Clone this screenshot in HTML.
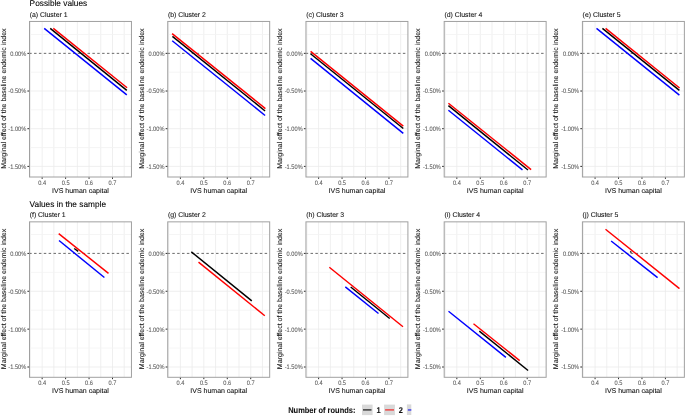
<!DOCTYPE html>
<html><head><meta charset="utf-8"><title>Marginal effect chart</title>
<style>
html,body{margin:0;padding:0;background:#fff;width:685px;height:416px;overflow:hidden}
svg text{font-family:"Liberation Sans", sans-serif;text-rendering:geometricPrecision;stroke-width:0.08px}
</style></head><body>
<svg width="685" height="416" viewBox="0 0 685 416" style="display:block;will-change:transform">
<rect width="685" height="416" fill="#fff"/>
<text x="29.6" y="6.40" font-size="8.3" fill="#000" stroke="#000">Possible values</text>
<path d="M30.42 21.45V177.00M42.15 21.45V177.00M53.87 21.45V177.00M65.60 21.45V177.00M77.33 21.45V177.00M89.05 21.45V177.00M100.78 21.45V177.00M112.50 21.45V177.00M124.22 21.45V177.00M29.50 91.03H131.45M29.50 128.70H131.45M29.50 166.38H131.45" stroke="#ebebeb" stroke-width="0.8" fill="none"/>
<path d="M29.50 34.51H131.45M29.50 72.19H131.45M29.50 109.86H131.45M29.50 147.54H131.45" stroke="#f3f3f3" stroke-width="0.8" fill="none"/>
<path d="M29.20 53.35H130.95" stroke="#5a5a5a" stroke-width="0.9" stroke-dasharray="2.5 2.36" fill="none"/>
<line x1="44.21" y1="28.34" x2="126.79" y2="94.86" stroke="#0000ff" stroke-width="1.45" stroke-linecap="butt"/>
<line x1="50.21" y1="28.34" x2="126.79" y2="90.36" stroke="#000000" stroke-width="1.45" stroke-linecap="butt"/>
<line x1="53.31" y1="28.34" x2="127.09" y2="87.76" stroke="#ff0000" stroke-width="1.45" stroke-linecap="butt"/>
<rect x="29.50" y="21.45" width="101.95" height="155.55" fill="none" stroke="#a0a0a0" stroke-width="1"/>
<text x="29.70" y="16.90" font-size="6.9" fill="#111" stroke="#111">(a) Cluster 1</text>
<path d="M27.40 53.35H29.10" stroke="#2a2a2a" stroke-width="1"/>
<text transform="translate(26.20 55.80) scale(0.885,1)" font-size="6.4" fill="#5c5c5c" stroke="#5c5c5c" text-anchor="end">0.00%</text>
<path d="M27.40 91.03H29.10" stroke="#2a2a2a" stroke-width="1"/>
<text transform="translate(26.20 93.48) scale(0.885,1)" font-size="6.4" fill="#5c5c5c" stroke="#5c5c5c" text-anchor="end">-0.50%</text>
<path d="M27.40 128.70H29.10" stroke="#2a2a2a" stroke-width="1"/>
<text transform="translate(26.20 131.15) scale(0.885,1)" font-size="6.4" fill="#5c5c5c" stroke="#5c5c5c" text-anchor="end">-1.00%</text>
<path d="M27.40 166.38H29.10" stroke="#2a2a2a" stroke-width="1"/>
<text transform="translate(26.20 168.82) scale(0.885,1)" font-size="6.4" fill="#5c5c5c" stroke="#5c5c5c" text-anchor="end">-1.50%</text>
<path d="M42.15 177.50V178.90" stroke="#2a2a2a" stroke-width="1"/>
<text transform="translate(42.15 184.60) scale(0.885,1)" font-size="6.4" fill="#5c5c5c" stroke="#5c5c5c" text-anchor="middle">0.4</text>
<path d="M65.60 177.50V178.90" stroke="#2a2a2a" stroke-width="1"/>
<text transform="translate(65.60 184.60) scale(0.885,1)" font-size="6.4" fill="#5c5c5c" stroke="#5c5c5c" text-anchor="middle">0.5</text>
<path d="M89.05 177.50V178.90" stroke="#2a2a2a" stroke-width="1"/>
<text transform="translate(89.05 184.60) scale(0.885,1)" font-size="6.4" fill="#5c5c5c" stroke="#5c5c5c" text-anchor="middle">0.6</text>
<path d="M112.50 177.50V178.90" stroke="#2a2a2a" stroke-width="1"/>
<text transform="translate(112.50 184.60) scale(0.885,1)" font-size="6.4" fill="#5c5c5c" stroke="#5c5c5c" text-anchor="middle">0.7</text>
<text x="80.47" y="192.70" font-size="7" fill="#111" stroke="#111" text-anchor="middle">IVS human capital</text>
<text transform="translate(6.00 98.63) rotate(-90)" x="0" y="0" font-size="7" fill="#111" stroke="#111" text-anchor="middle">Marginal effect of the baseline endemic index</text>
<path d="M168.65 21.45V177.00M180.38 21.45V177.00M192.10 21.45V177.00M203.83 21.45V177.00M215.56 21.45V177.00M227.28 21.45V177.00M239.00 21.45V177.00M250.73 21.45V177.00M262.45 21.45V177.00M167.73 91.03H269.68M167.73 128.70H269.68M167.73 166.38H269.68" stroke="#ebebeb" stroke-width="0.8" fill="none"/>
<path d="M167.73 34.51H269.68M167.73 72.19H269.68M167.73 109.86H269.68M167.73 147.54H269.68" stroke="#f3f3f3" stroke-width="0.8" fill="none"/>
<path d="M167.43 53.35H269.18" stroke="#5a5a5a" stroke-width="0.9" stroke-dasharray="2.5 2.36" fill="none"/>
<line x1="172.21" y1="40.74" x2="265.09" y2="115.46" stroke="#0000ff" stroke-width="1.45" stroke-linecap="butt"/>
<line x1="172.41" y1="36.34" x2="265.09" y2="110.96" stroke="#000000" stroke-width="1.45" stroke-linecap="butt"/>
<line x1="172.11" y1="33.64" x2="265.39" y2="108.56" stroke="#ff0000" stroke-width="1.45" stroke-linecap="butt"/>
<rect x="167.73" y="21.45" width="101.95" height="155.55" fill="none" stroke="#a0a0a0" stroke-width="1"/>
<text x="167.93" y="16.90" font-size="6.9" fill="#111" stroke="#111">(b) Cluster 2</text>
<path d="M165.63 53.35H167.33" stroke="#2a2a2a" stroke-width="1"/>
<text transform="translate(164.43 55.80) scale(0.885,1)" font-size="6.4" fill="#5c5c5c" stroke="#5c5c5c" text-anchor="end">0.00%</text>
<path d="M165.63 91.03H167.33" stroke="#2a2a2a" stroke-width="1"/>
<text transform="translate(164.43 93.48) scale(0.885,1)" font-size="6.4" fill="#5c5c5c" stroke="#5c5c5c" text-anchor="end">-0.50%</text>
<path d="M165.63 128.70H167.33" stroke="#2a2a2a" stroke-width="1"/>
<text transform="translate(164.43 131.15) scale(0.885,1)" font-size="6.4" fill="#5c5c5c" stroke="#5c5c5c" text-anchor="end">-1.00%</text>
<path d="M165.63 166.38H167.33" stroke="#2a2a2a" stroke-width="1"/>
<text transform="translate(164.43 168.82) scale(0.885,1)" font-size="6.4" fill="#5c5c5c" stroke="#5c5c5c" text-anchor="end">-1.50%</text>
<path d="M180.38 177.50V178.90" stroke="#2a2a2a" stroke-width="1"/>
<text transform="translate(180.38 184.60) scale(0.885,1)" font-size="6.4" fill="#5c5c5c" stroke="#5c5c5c" text-anchor="middle">0.4</text>
<path d="M203.83 177.50V178.90" stroke="#2a2a2a" stroke-width="1"/>
<text transform="translate(203.83 184.60) scale(0.885,1)" font-size="6.4" fill="#5c5c5c" stroke="#5c5c5c" text-anchor="middle">0.5</text>
<path d="M227.28 177.50V178.90" stroke="#2a2a2a" stroke-width="1"/>
<text transform="translate(227.28 184.60) scale(0.885,1)" font-size="6.4" fill="#5c5c5c" stroke="#5c5c5c" text-anchor="middle">0.6</text>
<path d="M250.73 177.50V178.90" stroke="#2a2a2a" stroke-width="1"/>
<text transform="translate(250.73 184.60) scale(0.885,1)" font-size="6.4" fill="#5c5c5c" stroke="#5c5c5c" text-anchor="middle">0.7</text>
<text x="218.70" y="192.70" font-size="7" fill="#111" stroke="#111" text-anchor="middle">IVS human capital</text>
<text transform="translate(144.00 98.63) rotate(-90)" x="0" y="0" font-size="7" fill="#111" stroke="#111" text-anchor="middle">Marginal effect of the baseline endemic index</text>
<path d="M306.88 21.45V177.00M318.61 21.45V177.00M330.33 21.45V177.00M342.06 21.45V177.00M353.78 21.45V177.00M365.51 21.45V177.00M377.23 21.45V177.00M388.96 21.45V177.00M400.68 21.45V177.00M305.96 91.03H407.91M305.96 128.70H407.91M305.96 166.38H407.91" stroke="#ebebeb" stroke-width="0.8" fill="none"/>
<path d="M305.96 34.51H407.91M305.96 72.19H407.91M305.96 109.86H407.91M305.96 147.54H407.91" stroke="#f3f3f3" stroke-width="0.8" fill="none"/>
<path d="M305.66 53.35H407.41" stroke="#5a5a5a" stroke-width="0.9" stroke-dasharray="2.5 2.36" fill="none"/>
<line x1="310.61" y1="58.34" x2="403.29" y2="133.36" stroke="#0000ff" stroke-width="1.45" stroke-linecap="butt"/>
<line x1="310.51" y1="53.74" x2="403.29" y2="128.56" stroke="#000000" stroke-width="1.45" stroke-linecap="butt"/>
<line x1="310.61" y1="51.34" x2="403.29" y2="126.16" stroke="#ff0000" stroke-width="1.45" stroke-linecap="butt"/>
<rect x="305.96" y="21.45" width="101.95" height="155.55" fill="none" stroke="#a0a0a0" stroke-width="1"/>
<text x="306.16" y="16.90" font-size="6.9" fill="#111" stroke="#111">(c) Cluster 3</text>
<path d="M303.86 53.35H305.56" stroke="#2a2a2a" stroke-width="1"/>
<text transform="translate(302.66 55.80) scale(0.885,1)" font-size="6.4" fill="#5c5c5c" stroke="#5c5c5c" text-anchor="end">0.00%</text>
<path d="M303.86 91.03H305.56" stroke="#2a2a2a" stroke-width="1"/>
<text transform="translate(302.66 93.48) scale(0.885,1)" font-size="6.4" fill="#5c5c5c" stroke="#5c5c5c" text-anchor="end">-0.50%</text>
<path d="M303.86 128.70H305.56" stroke="#2a2a2a" stroke-width="1"/>
<text transform="translate(302.66 131.15) scale(0.885,1)" font-size="6.4" fill="#5c5c5c" stroke="#5c5c5c" text-anchor="end">-1.00%</text>
<path d="M303.86 166.38H305.56" stroke="#2a2a2a" stroke-width="1"/>
<text transform="translate(302.66 168.82) scale(0.885,1)" font-size="6.4" fill="#5c5c5c" stroke="#5c5c5c" text-anchor="end">-1.50%</text>
<path d="M318.61 177.50V178.90" stroke="#2a2a2a" stroke-width="1"/>
<text transform="translate(318.61 184.60) scale(0.885,1)" font-size="6.4" fill="#5c5c5c" stroke="#5c5c5c" text-anchor="middle">0.4</text>
<path d="M342.06 177.50V178.90" stroke="#2a2a2a" stroke-width="1"/>
<text transform="translate(342.06 184.60) scale(0.885,1)" font-size="6.4" fill="#5c5c5c" stroke="#5c5c5c" text-anchor="middle">0.5</text>
<path d="M365.51 177.50V178.90" stroke="#2a2a2a" stroke-width="1"/>
<text transform="translate(365.51 184.60) scale(0.885,1)" font-size="6.4" fill="#5c5c5c" stroke="#5c5c5c" text-anchor="middle">0.6</text>
<path d="M388.96 177.50V178.90" stroke="#2a2a2a" stroke-width="1"/>
<text transform="translate(388.96 184.60) scale(0.885,1)" font-size="6.4" fill="#5c5c5c" stroke="#5c5c5c" text-anchor="middle">0.7</text>
<text x="356.94" y="192.70" font-size="7" fill="#111" stroke="#111" text-anchor="middle">IVS human capital</text>
<text transform="translate(282.00 98.63) rotate(-90)" x="0" y="0" font-size="7" fill="#111" stroke="#111" text-anchor="middle">Marginal effect of the baseline endemic index</text>
<path d="M445.11 21.45V177.00M456.84 21.45V177.00M468.56 21.45V177.00M480.29 21.45V177.00M492.01 21.45V177.00M503.74 21.45V177.00M515.46 21.45V177.00M527.19 21.45V177.00M538.91 21.45V177.00M444.19 91.03H546.14M444.19 128.70H546.14M444.19 166.38H546.14" stroke="#ebebeb" stroke-width="0.8" fill="none"/>
<path d="M444.19 34.51H546.14M444.19 72.19H546.14M444.19 109.86H546.14M444.19 147.54H546.14" stroke="#f3f3f3" stroke-width="0.8" fill="none"/>
<path d="M443.89 53.35H545.64" stroke="#5a5a5a" stroke-width="0.9" stroke-dasharray="2.5 2.36" fill="none"/>
<line x1="448.41" y1="110.24" x2="522.49" y2="169.86" stroke="#0000ff" stroke-width="1.45" stroke-linecap="butt"/>
<line x1="448.41" y1="105.64" x2="527.99" y2="170.06" stroke="#000000" stroke-width="1.45" stroke-linecap="butt"/>
<line x1="448.40" y1="103.24" x2="531.10" y2="169.56" stroke="#ff0000" stroke-width="1.45" stroke-linecap="butt"/>
<rect x="444.19" y="21.45" width="101.95" height="155.55" fill="none" stroke="#a0a0a0" stroke-width="1"/>
<text x="444.39" y="16.90" font-size="6.9" fill="#111" stroke="#111">(d) Cluster 4</text>
<path d="M442.09 53.35H443.79" stroke="#2a2a2a" stroke-width="1"/>
<text transform="translate(440.89 55.80) scale(0.885,1)" font-size="6.4" fill="#5c5c5c" stroke="#5c5c5c" text-anchor="end">0.00%</text>
<path d="M442.09 91.03H443.79" stroke="#2a2a2a" stroke-width="1"/>
<text transform="translate(440.89 93.48) scale(0.885,1)" font-size="6.4" fill="#5c5c5c" stroke="#5c5c5c" text-anchor="end">-0.50%</text>
<path d="M442.09 128.70H443.79" stroke="#2a2a2a" stroke-width="1"/>
<text transform="translate(440.89 131.15) scale(0.885,1)" font-size="6.4" fill="#5c5c5c" stroke="#5c5c5c" text-anchor="end">-1.00%</text>
<path d="M442.09 166.38H443.79" stroke="#2a2a2a" stroke-width="1"/>
<text transform="translate(440.89 168.82) scale(0.885,1)" font-size="6.4" fill="#5c5c5c" stroke="#5c5c5c" text-anchor="end">-1.50%</text>
<path d="M456.84 177.50V178.90" stroke="#2a2a2a" stroke-width="1"/>
<text transform="translate(456.84 184.60) scale(0.885,1)" font-size="6.4" fill="#5c5c5c" stroke="#5c5c5c" text-anchor="middle">0.4</text>
<path d="M480.29 177.50V178.90" stroke="#2a2a2a" stroke-width="1"/>
<text transform="translate(480.29 184.60) scale(0.885,1)" font-size="6.4" fill="#5c5c5c" stroke="#5c5c5c" text-anchor="middle">0.5</text>
<path d="M503.74 177.50V178.90" stroke="#2a2a2a" stroke-width="1"/>
<text transform="translate(503.74 184.60) scale(0.885,1)" font-size="6.4" fill="#5c5c5c" stroke="#5c5c5c" text-anchor="middle">0.6</text>
<path d="M527.19 177.50V178.90" stroke="#2a2a2a" stroke-width="1"/>
<text transform="translate(527.19 184.60) scale(0.885,1)" font-size="6.4" fill="#5c5c5c" stroke="#5c5c5c" text-anchor="middle">0.7</text>
<text x="495.16" y="192.70" font-size="7" fill="#111" stroke="#111" text-anchor="middle">IVS human capital</text>
<text transform="translate(420.00 98.63) rotate(-90)" x="0" y="0" font-size="7" fill="#111" stroke="#111" text-anchor="middle">Marginal effect of the baseline endemic index</text>
<path d="M583.34 21.45V177.00M595.07 21.45V177.00M606.79 21.45V177.00M618.52 21.45V177.00M630.24 21.45V177.00M641.97 21.45V177.00M653.69 21.45V177.00M665.42 21.45V177.00M677.14 21.45V177.00M582.42 91.03H684.37M582.42 128.70H684.37M582.42 166.38H684.37" stroke="#ebebeb" stroke-width="0.8" fill="none"/>
<path d="M582.42 34.51H684.37M582.42 72.19H684.37M582.42 109.86H684.37M582.42 147.54H684.37" stroke="#f3f3f3" stroke-width="0.8" fill="none"/>
<path d="M582.12 53.35H683.87" stroke="#5a5a5a" stroke-width="0.9" stroke-dasharray="2.5 2.36" fill="none"/>
<line x1="596.51" y1="28.34" x2="679.39" y2="95.16" stroke="#0000ff" stroke-width="1.45" stroke-linecap="butt"/>
<line x1="602.41" y1="28.34" x2="679.39" y2="90.36" stroke="#000000" stroke-width="1.45" stroke-linecap="butt"/>
<line x1="605.61" y1="28.34" x2="679.59" y2="88.06" stroke="#ff0000" stroke-width="1.45" stroke-linecap="butt"/>
<rect x="582.42" y="21.45" width="101.95" height="155.55" fill="none" stroke="#a0a0a0" stroke-width="1"/>
<text x="582.62" y="16.90" font-size="6.9" fill="#111" stroke="#111">(e) Cluster 5</text>
<path d="M580.32 53.35H582.02" stroke="#2a2a2a" stroke-width="1"/>
<text transform="translate(579.12 55.80) scale(0.885,1)" font-size="6.4" fill="#5c5c5c" stroke="#5c5c5c" text-anchor="end">0.00%</text>
<path d="M580.32 91.03H582.02" stroke="#2a2a2a" stroke-width="1"/>
<text transform="translate(579.12 93.48) scale(0.885,1)" font-size="6.4" fill="#5c5c5c" stroke="#5c5c5c" text-anchor="end">-0.50%</text>
<path d="M580.32 128.70H582.02" stroke="#2a2a2a" stroke-width="1"/>
<text transform="translate(579.12 131.15) scale(0.885,1)" font-size="6.4" fill="#5c5c5c" stroke="#5c5c5c" text-anchor="end">-1.00%</text>
<path d="M580.32 166.38H582.02" stroke="#2a2a2a" stroke-width="1"/>
<text transform="translate(579.12 168.82) scale(0.885,1)" font-size="6.4" fill="#5c5c5c" stroke="#5c5c5c" text-anchor="end">-1.50%</text>
<path d="M595.07 177.50V178.90" stroke="#2a2a2a" stroke-width="1"/>
<text transform="translate(595.07 184.60) scale(0.885,1)" font-size="6.4" fill="#5c5c5c" stroke="#5c5c5c" text-anchor="middle">0.4</text>
<path d="M618.52 177.50V178.90" stroke="#2a2a2a" stroke-width="1"/>
<text transform="translate(618.52 184.60) scale(0.885,1)" font-size="6.4" fill="#5c5c5c" stroke="#5c5c5c" text-anchor="middle">0.5</text>
<path d="M641.97 177.50V178.90" stroke="#2a2a2a" stroke-width="1"/>
<text transform="translate(641.97 184.60) scale(0.885,1)" font-size="6.4" fill="#5c5c5c" stroke="#5c5c5c" text-anchor="middle">0.6</text>
<path d="M665.42 177.50V178.90" stroke="#2a2a2a" stroke-width="1"/>
<text transform="translate(665.42 184.60) scale(0.885,1)" font-size="6.4" fill="#5c5c5c" stroke="#5c5c5c" text-anchor="middle">0.7</text>
<text x="633.39" y="192.70" font-size="7" fill="#111" stroke="#111" text-anchor="middle">IVS human capital</text>
<text transform="translate(558.00 98.63) rotate(-90)" x="0" y="0" font-size="7" fill="#111" stroke="#111" text-anchor="middle">Marginal effect of the baseline endemic index</text>
<text x="29.6" y="206.95" font-size="8.3" fill="#000" stroke="#000">Values in the sample</text>
<path d="M30.42 221.85V377.30M42.15 221.85V377.30M53.87 221.85V377.30M65.60 221.85V377.30M77.33 221.85V377.30M89.05 221.85V377.30M100.78 221.85V377.30M112.50 221.85V377.30M124.22 221.85V377.30M29.50 291.26H131.45M29.50 329.13H131.45M29.50 367.00H131.45" stroke="#ebebeb" stroke-width="0.8" fill="none"/>
<path d="M29.50 234.47H131.45M29.50 272.33H131.45M29.50 310.20H131.45M29.50 348.06H131.45" stroke="#f3f3f3" stroke-width="0.8" fill="none"/>
<path d="M29.20 253.40H130.95" stroke="#5a5a5a" stroke-width="0.9" stroke-dasharray="2.5 2.36" fill="none"/>
<line x1="59.01" y1="240.54" x2="104.39" y2="277.46" stroke="#0000ff" stroke-width="1.45" stroke-linecap="butt"/>
<line x1="74.20" y1="248.50" x2="78.20" y2="251.45" stroke="#000000" stroke-width="1.45" stroke-linecap="butt"/>
<line x1="58.70" y1="233.64" x2="108.50" y2="273.36" stroke="#ff0000" stroke-width="1.45" stroke-linecap="butt"/>
<rect x="29.50" y="221.85" width="101.95" height="155.45" fill="none" stroke="#a0a0a0" stroke-width="1"/>
<text x="29.70" y="216.90" font-size="6.9" fill="#111" stroke="#111">(f) Cluster 1</text>
<path d="M27.40 253.40H29.10" stroke="#2a2a2a" stroke-width="1"/>
<text transform="translate(26.20 255.85) scale(0.885,1)" font-size="6.4" fill="#5c5c5c" stroke="#5c5c5c" text-anchor="end">0.00%</text>
<path d="M27.40 291.26H29.10" stroke="#2a2a2a" stroke-width="1"/>
<text transform="translate(26.20 293.71) scale(0.885,1)" font-size="6.4" fill="#5c5c5c" stroke="#5c5c5c" text-anchor="end">-0.50%</text>
<path d="M27.40 329.13H29.10" stroke="#2a2a2a" stroke-width="1"/>
<text transform="translate(26.20 331.58) scale(0.885,1)" font-size="6.4" fill="#5c5c5c" stroke="#5c5c5c" text-anchor="end">-1.00%</text>
<path d="M27.40 367.00H29.10" stroke="#2a2a2a" stroke-width="1"/>
<text transform="translate(26.20 369.44) scale(0.885,1)" font-size="6.4" fill="#5c5c5c" stroke="#5c5c5c" text-anchor="end">-1.50%</text>
<path d="M42.15 377.80V379.20" stroke="#2a2a2a" stroke-width="1"/>
<text transform="translate(42.15 384.90) scale(0.885,1)" font-size="6.4" fill="#5c5c5c" stroke="#5c5c5c" text-anchor="middle">0.4</text>
<path d="M65.60 377.80V379.20" stroke="#2a2a2a" stroke-width="1"/>
<text transform="translate(65.60 384.90) scale(0.885,1)" font-size="6.4" fill="#5c5c5c" stroke="#5c5c5c" text-anchor="middle">0.5</text>
<path d="M89.05 377.80V379.20" stroke="#2a2a2a" stroke-width="1"/>
<text transform="translate(89.05 384.90) scale(0.885,1)" font-size="6.4" fill="#5c5c5c" stroke="#5c5c5c" text-anchor="middle">0.6</text>
<path d="M112.50 377.80V379.20" stroke="#2a2a2a" stroke-width="1"/>
<text transform="translate(112.50 384.90) scale(0.885,1)" font-size="6.4" fill="#5c5c5c" stroke="#5c5c5c" text-anchor="middle">0.7</text>
<text x="80.47" y="393.00" font-size="7" fill="#111" stroke="#111" text-anchor="middle">IVS human capital</text>
<text transform="translate(6.00 298.97) rotate(-90)" x="0" y="0" font-size="7" fill="#111" stroke="#111" text-anchor="middle">Marginal effect of the baseline endemic index</text>
<path d="M168.65 221.85V377.30M180.38 221.85V377.30M192.10 221.85V377.30M203.83 221.85V377.30M215.56 221.85V377.30M227.28 221.85V377.30M239.00 221.85V377.30M250.73 221.85V377.30M262.45 221.85V377.30M167.73 291.26H269.68M167.73 329.13H269.68M167.73 367.00H269.68" stroke="#ebebeb" stroke-width="0.8" fill="none"/>
<path d="M167.73 234.47H269.68M167.73 272.33H269.68M167.73 310.20H269.68M167.73 348.06H269.68" stroke="#f3f3f3" stroke-width="0.8" fill="none"/>
<path d="M167.43 253.40H269.18" stroke="#5a5a5a" stroke-width="0.9" stroke-dasharray="2.5 2.36" fill="none"/>
<line x1="191.31" y1="251.84" x2="251.79" y2="300.86" stroke="#000000" stroke-width="1.45" stroke-linecap="butt"/>
<line x1="198.51" y1="262.14" x2="264.79" y2="315.76" stroke="#ff0000" stroke-width="1.45" stroke-linecap="butt"/>
<rect x="167.73" y="221.85" width="101.95" height="155.45" fill="none" stroke="#a0a0a0" stroke-width="1"/>
<text x="167.93" y="216.90" font-size="6.9" fill="#111" stroke="#111">(g) Cluster 2</text>
<path d="M165.63 253.40H167.33" stroke="#2a2a2a" stroke-width="1"/>
<text transform="translate(164.43 255.85) scale(0.885,1)" font-size="6.4" fill="#5c5c5c" stroke="#5c5c5c" text-anchor="end">0.00%</text>
<path d="M165.63 291.26H167.33" stroke="#2a2a2a" stroke-width="1"/>
<text transform="translate(164.43 293.71) scale(0.885,1)" font-size="6.4" fill="#5c5c5c" stroke="#5c5c5c" text-anchor="end">-0.50%</text>
<path d="M165.63 329.13H167.33" stroke="#2a2a2a" stroke-width="1"/>
<text transform="translate(164.43 331.58) scale(0.885,1)" font-size="6.4" fill="#5c5c5c" stroke="#5c5c5c" text-anchor="end">-1.00%</text>
<path d="M165.63 367.00H167.33" stroke="#2a2a2a" stroke-width="1"/>
<text transform="translate(164.43 369.44) scale(0.885,1)" font-size="6.4" fill="#5c5c5c" stroke="#5c5c5c" text-anchor="end">-1.50%</text>
<path d="M180.38 377.80V379.20" stroke="#2a2a2a" stroke-width="1"/>
<text transform="translate(180.38 384.90) scale(0.885,1)" font-size="6.4" fill="#5c5c5c" stroke="#5c5c5c" text-anchor="middle">0.4</text>
<path d="M203.83 377.80V379.20" stroke="#2a2a2a" stroke-width="1"/>
<text transform="translate(203.83 384.90) scale(0.885,1)" font-size="6.4" fill="#5c5c5c" stroke="#5c5c5c" text-anchor="middle">0.5</text>
<path d="M227.28 377.80V379.20" stroke="#2a2a2a" stroke-width="1"/>
<text transform="translate(227.28 384.90) scale(0.885,1)" font-size="6.4" fill="#5c5c5c" stroke="#5c5c5c" text-anchor="middle">0.6</text>
<path d="M250.73 377.80V379.20" stroke="#2a2a2a" stroke-width="1"/>
<text transform="translate(250.73 384.90) scale(0.885,1)" font-size="6.4" fill="#5c5c5c" stroke="#5c5c5c" text-anchor="middle">0.7</text>
<text x="218.70" y="393.00" font-size="7" fill="#111" stroke="#111" text-anchor="middle">IVS human capital</text>
<text transform="translate(144.00 298.97) rotate(-90)" x="0" y="0" font-size="7" fill="#111" stroke="#111" text-anchor="middle">Marginal effect of the baseline endemic index</text>
<path d="M306.88 221.85V377.30M318.61 221.85V377.30M330.33 221.85V377.30M342.06 221.85V377.30M353.78 221.85V377.30M365.51 221.85V377.30M377.23 221.85V377.30M388.96 221.85V377.30M400.68 221.85V377.30M305.96 291.26H407.91M305.96 329.13H407.91M305.96 367.00H407.91" stroke="#ebebeb" stroke-width="0.8" fill="none"/>
<path d="M305.96 234.47H407.91M305.96 272.33H407.91M305.96 310.20H407.91M305.96 348.06H407.91" stroke="#f3f3f3" stroke-width="0.8" fill="none"/>
<path d="M305.66 253.40H407.41" stroke="#5a5a5a" stroke-width="0.9" stroke-dasharray="2.5 2.36" fill="none"/>
<line x1="345.30" y1="286.94" x2="378.50" y2="313.51" stroke="#0000ff" stroke-width="1.45" stroke-linecap="butt"/>
<line x1="350.71" y1="287.04" x2="389.69" y2="318.56" stroke="#000000" stroke-width="1.45" stroke-linecap="butt"/>
<line x1="329.31" y1="267.24" x2="402.99" y2="326.76" stroke="#ff0000" stroke-width="1.45" stroke-linecap="butt"/>
<rect x="305.96" y="221.85" width="101.95" height="155.45" fill="none" stroke="#a0a0a0" stroke-width="1"/>
<text x="306.16" y="216.90" font-size="6.9" fill="#111" stroke="#111">(h) Cluster 3</text>
<path d="M303.86 253.40H305.56" stroke="#2a2a2a" stroke-width="1"/>
<text transform="translate(302.66 255.85) scale(0.885,1)" font-size="6.4" fill="#5c5c5c" stroke="#5c5c5c" text-anchor="end">0.00%</text>
<path d="M303.86 291.26H305.56" stroke="#2a2a2a" stroke-width="1"/>
<text transform="translate(302.66 293.71) scale(0.885,1)" font-size="6.4" fill="#5c5c5c" stroke="#5c5c5c" text-anchor="end">-0.50%</text>
<path d="M303.86 329.13H305.56" stroke="#2a2a2a" stroke-width="1"/>
<text transform="translate(302.66 331.58) scale(0.885,1)" font-size="6.4" fill="#5c5c5c" stroke="#5c5c5c" text-anchor="end">-1.00%</text>
<path d="M303.86 367.00H305.56" stroke="#2a2a2a" stroke-width="1"/>
<text transform="translate(302.66 369.44) scale(0.885,1)" font-size="6.4" fill="#5c5c5c" stroke="#5c5c5c" text-anchor="end">-1.50%</text>
<path d="M318.61 377.80V379.20" stroke="#2a2a2a" stroke-width="1"/>
<text transform="translate(318.61 384.90) scale(0.885,1)" font-size="6.4" fill="#5c5c5c" stroke="#5c5c5c" text-anchor="middle">0.4</text>
<path d="M342.06 377.80V379.20" stroke="#2a2a2a" stroke-width="1"/>
<text transform="translate(342.06 384.90) scale(0.885,1)" font-size="6.4" fill="#5c5c5c" stroke="#5c5c5c" text-anchor="middle">0.5</text>
<path d="M365.51 377.80V379.20" stroke="#2a2a2a" stroke-width="1"/>
<text transform="translate(365.51 384.90) scale(0.885,1)" font-size="6.4" fill="#5c5c5c" stroke="#5c5c5c" text-anchor="middle">0.6</text>
<path d="M388.96 377.80V379.20" stroke="#2a2a2a" stroke-width="1"/>
<text transform="translate(388.96 384.90) scale(0.885,1)" font-size="6.4" fill="#5c5c5c" stroke="#5c5c5c" text-anchor="middle">0.7</text>
<text x="356.94" y="393.00" font-size="7" fill="#111" stroke="#111" text-anchor="middle">IVS human capital</text>
<text transform="translate(282.00 298.97) rotate(-90)" x="0" y="0" font-size="7" fill="#111" stroke="#111" text-anchor="middle">Marginal effect of the baseline endemic index</text>
<path d="M445.11 221.85V377.30M456.84 221.85V377.30M468.56 221.85V377.30M480.29 221.85V377.30M492.01 221.85V377.30M503.74 221.85V377.30M515.46 221.85V377.30M527.19 221.85V377.30M538.91 221.85V377.30M444.19 291.26H546.14M444.19 329.13H546.14M444.19 367.00H546.14" stroke="#ebebeb" stroke-width="0.8" fill="none"/>
<path d="M444.19 234.47H546.14M444.19 272.33H546.14M444.19 310.20H546.14M444.19 348.06H546.14" stroke="#f3f3f3" stroke-width="0.8" fill="none"/>
<path d="M443.89 253.40H545.64" stroke="#5a5a5a" stroke-width="0.9" stroke-dasharray="2.5 2.36" fill="none"/>
<line x1="448.51" y1="311.19" x2="505.89" y2="357.36" stroke="#0000ff" stroke-width="1.45" stroke-linecap="butt"/>
<line x1="479.31" y1="331.14" x2="528.09" y2="370.46" stroke="#000000" stroke-width="1.45" stroke-linecap="butt"/>
<line x1="473.50" y1="323.74" x2="519.70" y2="360.56" stroke="#ff0000" stroke-width="1.45" stroke-linecap="butt"/>
<rect x="444.19" y="221.85" width="101.95" height="155.45" fill="none" stroke="#a0a0a0" stroke-width="1"/>
<text x="444.39" y="216.90" font-size="6.9" fill="#111" stroke="#111">(i) Cluster 4</text>
<path d="M442.09 253.40H443.79" stroke="#2a2a2a" stroke-width="1"/>
<text transform="translate(440.89 255.85) scale(0.885,1)" font-size="6.4" fill="#5c5c5c" stroke="#5c5c5c" text-anchor="end">0.00%</text>
<path d="M442.09 291.26H443.79" stroke="#2a2a2a" stroke-width="1"/>
<text transform="translate(440.89 293.71) scale(0.885,1)" font-size="6.4" fill="#5c5c5c" stroke="#5c5c5c" text-anchor="end">-0.50%</text>
<path d="M442.09 329.13H443.79" stroke="#2a2a2a" stroke-width="1"/>
<text transform="translate(440.89 331.58) scale(0.885,1)" font-size="6.4" fill="#5c5c5c" stroke="#5c5c5c" text-anchor="end">-1.00%</text>
<path d="M442.09 367.00H443.79" stroke="#2a2a2a" stroke-width="1"/>
<text transform="translate(440.89 369.44) scale(0.885,1)" font-size="6.4" fill="#5c5c5c" stroke="#5c5c5c" text-anchor="end">-1.50%</text>
<path d="M456.84 377.80V379.20" stroke="#2a2a2a" stroke-width="1"/>
<text transform="translate(456.84 384.90) scale(0.885,1)" font-size="6.4" fill="#5c5c5c" stroke="#5c5c5c" text-anchor="middle">0.4</text>
<path d="M480.29 377.80V379.20" stroke="#2a2a2a" stroke-width="1"/>
<text transform="translate(480.29 384.90) scale(0.885,1)" font-size="6.4" fill="#5c5c5c" stroke="#5c5c5c" text-anchor="middle">0.5</text>
<path d="M503.74 377.80V379.20" stroke="#2a2a2a" stroke-width="1"/>
<text transform="translate(503.74 384.90) scale(0.885,1)" font-size="6.4" fill="#5c5c5c" stroke="#5c5c5c" text-anchor="middle">0.6</text>
<path d="M527.19 377.80V379.20" stroke="#2a2a2a" stroke-width="1"/>
<text transform="translate(527.19 384.90) scale(0.885,1)" font-size="6.4" fill="#5c5c5c" stroke="#5c5c5c" text-anchor="middle">0.7</text>
<text x="495.16" y="393.00" font-size="7" fill="#111" stroke="#111" text-anchor="middle">IVS human capital</text>
<text transform="translate(420.00 298.97) rotate(-90)" x="0" y="0" font-size="7" fill="#111" stroke="#111" text-anchor="middle">Marginal effect of the baseline endemic index</text>
<path d="M583.34 221.85V377.30M595.07 221.85V377.30M606.79 221.85V377.30M618.52 221.85V377.30M630.24 221.85V377.30M641.97 221.85V377.30M653.69 221.85V377.30M665.42 221.85V377.30M677.14 221.85V377.30M582.42 291.26H684.37M582.42 329.13H684.37M582.42 367.00H684.37" stroke="#ebebeb" stroke-width="0.8" fill="none"/>
<path d="M582.42 234.47H684.37M582.42 272.33H684.37M582.42 310.20H684.37M582.42 348.06H684.37" stroke="#f3f3f3" stroke-width="0.8" fill="none"/>
<path d="M582.12 253.40H683.87" stroke="#5a5a5a" stroke-width="0.9" stroke-dasharray="2.5 2.36" fill="none"/>
<line x1="611.15" y1="241.05" x2="657.60" y2="277.65" stroke="#0000ff" stroke-width="1.45" stroke-linecap="butt"/>
<line x1="630.20" y1="251.45" x2="631.50" y2="252.45" stroke="#000000" stroke-width="1.45" stroke-linecap="butt"/>
<line x1="605.50" y1="229.24" x2="679.50" y2="288.56" stroke="#ff0000" stroke-width="1.45" stroke-linecap="butt"/>
<rect x="582.42" y="221.85" width="101.95" height="155.45" fill="none" stroke="#a0a0a0" stroke-width="1"/>
<text x="582.62" y="216.90" font-size="6.9" fill="#111" stroke="#111">(j) Cluster 5</text>
<path d="M580.32 253.40H582.02" stroke="#2a2a2a" stroke-width="1"/>
<text transform="translate(579.12 255.85) scale(0.885,1)" font-size="6.4" fill="#5c5c5c" stroke="#5c5c5c" text-anchor="end">0.00%</text>
<path d="M580.32 291.26H582.02" stroke="#2a2a2a" stroke-width="1"/>
<text transform="translate(579.12 293.71) scale(0.885,1)" font-size="6.4" fill="#5c5c5c" stroke="#5c5c5c" text-anchor="end">-0.50%</text>
<path d="M580.32 329.13H582.02" stroke="#2a2a2a" stroke-width="1"/>
<text transform="translate(579.12 331.58) scale(0.885,1)" font-size="6.4" fill="#5c5c5c" stroke="#5c5c5c" text-anchor="end">-1.00%</text>
<path d="M580.32 367.00H582.02" stroke="#2a2a2a" stroke-width="1"/>
<text transform="translate(579.12 369.44) scale(0.885,1)" font-size="6.4" fill="#5c5c5c" stroke="#5c5c5c" text-anchor="end">-1.50%</text>
<path d="M595.07 377.80V379.20" stroke="#2a2a2a" stroke-width="1"/>
<text transform="translate(595.07 384.90) scale(0.885,1)" font-size="6.4" fill="#5c5c5c" stroke="#5c5c5c" text-anchor="middle">0.4</text>
<path d="M618.52 377.80V379.20" stroke="#2a2a2a" stroke-width="1"/>
<text transform="translate(618.52 384.90) scale(0.885,1)" font-size="6.4" fill="#5c5c5c" stroke="#5c5c5c" text-anchor="middle">0.5</text>
<path d="M641.97 377.80V379.20" stroke="#2a2a2a" stroke-width="1"/>
<text transform="translate(641.97 384.90) scale(0.885,1)" font-size="6.4" fill="#5c5c5c" stroke="#5c5c5c" text-anchor="middle">0.6</text>
<path d="M665.42 377.80V379.20" stroke="#2a2a2a" stroke-width="1"/>
<text transform="translate(665.42 384.90) scale(0.885,1)" font-size="6.4" fill="#5c5c5c" stroke="#5c5c5c" text-anchor="middle">0.7</text>
<text x="633.39" y="393.00" font-size="7" fill="#111" stroke="#111" text-anchor="middle">IVS human capital</text>
<text transform="translate(558.00 298.97) rotate(-90)" x="0" y="0" font-size="7" fill="#111" stroke="#111" text-anchor="middle">Marginal effect of the baseline endemic index</text>
<text transform="translate(288.2 412.75) scale(0.9,1)" font-size="8.3" font-weight="bold" fill="#111" stroke="#111">Number of rounds:</text>
<rect x="362" y="404.6" width="10.6" height="10.5" fill="#d9d9d9"/>
<line x1="363" y1="409.9" x2="371.5" y2="409.9" stroke="#3a3a3a" stroke-width="1.45"/>
<text transform="translate(376.6 412.9) scale(0.9,1)" font-size="8.3" font-weight="bold" fill="#111" stroke="#111">1</text>
<rect x="384.1" y="404.6" width="10.8" height="10.5" fill="#d9d9d9"/>
<line x1="385.1" y1="409.9" x2="394" y2="409.9" stroke="#ee4444" stroke-width="1.45"/>
<text transform="translate(398.7 412.9) scale(0.9,1)" font-size="8.3" font-weight="bold" fill="#111" stroke="#111">2</text>
<rect x="406.9" y="404.4" width="4.4" height="10.6" fill="#d9d9d9"/>
<line x1="407.9" y1="409.95" x2="411.3" y2="409.95" stroke="#4444ee" stroke-width="1.5"/>
</svg>
</body></html>
